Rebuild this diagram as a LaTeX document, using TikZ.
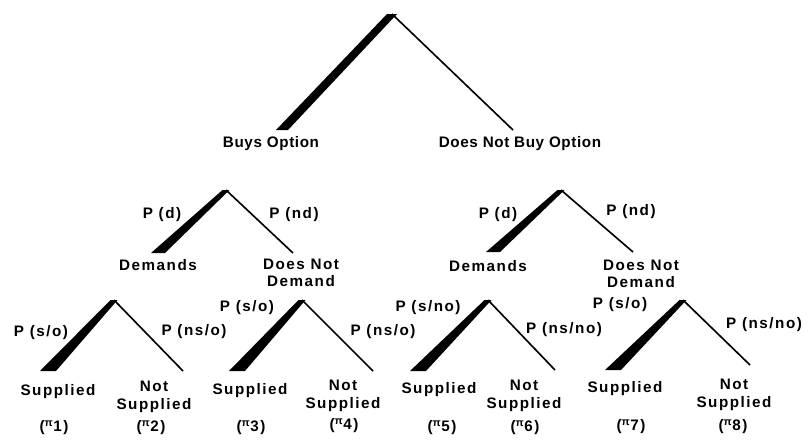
\documentclass[tikz,border=0pt]{standalone}
\usepackage{fontspec}
\setmainfont{Liberation Sans}[LetterSpace=10]
\usetikzlibrary{calc}

\tikzset{
  lbl/.style={font=\fontsize{13}{15}\selectfont\bfseries, inner sep=0pt, align=center},
  toplbl/.style={lbl, font=\fontsize{13}{15}\selectfont\bfseries\addfontfeature{LetterSpace=4}},
  thinbranch/.style={line width=1.4pt},
}
% tapered heavy branch: apex, end, half width at apex, half width at end
\newcommand{\heavybranch}[4]{%
  \fill ($(#1)+(-#3,0)$) -- ($(#1)+(#3,0)$) -- ($(#2)+(#4,0)$) -- ($(#2)+(-#4,0)$) -- cycle;}

\begin{document}
\begin{tikzpicture}[x=0.03cm, y=-0.03cm]
        \useasboundingbox (0,0) rectangle (809,439);

        % Top decision
        \coordinate (top) at (392,14);
        \coordinate (topL) at (282,130);
        \coordinate (topR) at (513,130);
        \heavybranch{top}{topL}{5}{6}
        \draw[thinbranch] (top) -- (topR);
        \node[toplbl] (buys) at (271,144) {Buys Option};
        \node[toplbl] (nobuy) at (520,144) {Does Not Buy Option};

        % Demand level, left
        \coordinate (dA) at (226,190);
        \coordinate (dAL) at (158,253);
        \coordinate (dAR) at (293,253);
        \heavybranch{dA}{dAL}{3.5}{7}
        \draw[thinbranch] (dA) -- (dAR);
        \node[lbl] (pdA) at (162,215) {P (d)};
        \node[lbl] (pndA) at (294,215) {P (nd)};
        \node[lbl] (demA) at (158,265) {Demands};
        \node[lbl] (nodemA) at (301,273) {Does Not\\Demand};

        % Demand level, right
        \coordinate (dB) at (561,190);
        \coordinate (dBL) at (493,252);
        \coordinate (dBR) at (633,252);
        \heavybranch{dB}{dBL}{3.5}{7}
        \draw[thinbranch] (dB) -- (dBR);
        \node[lbl] (pdB) at (498,215) {P (d)};
        \node[lbl] (pndB) at (631,212) {P (nd)};
        \node[lbl] (demB) at (488,266) {Demands};
        \node[lbl] (nodemB) at (641,274) {Does Not\\Demand};

        % Supply level, tree 1
        \coordinate (s1) at (114,300);
        \coordinate (s1L) at (48,371);
        \coordinate (s1R) at (183,371);
        \heavybranch{s1}{s1L}{3.5}{8}
        \draw[thinbranch] (s1) -- (s1R);
        \node[lbl] (ps1) at (41,333) {P (s/o)};
        \node[lbl] (pns1) at (194,332) {P (ns/o)};
        \node[lbl] (sup1) at (58,392) {Supplied};
        \node[lbl] (nsup1) at (154,397) {Not\\Supplied};
        \node[lbl] (pi1) at (54,428) {(\textsuperscript{π}1)};
        \node[lbl] (pi2) at (151,428) {(\textsuperscript{π}2)};

        % Supply level, tree 2
        \coordinate (s2) at (302,300);
        \coordinate (s2L) at (237,371);
        \coordinate (s2R) at (373,371);
        \heavybranch{s2}{s2L}{3.5}{8}
        \draw[thinbranch] (s2) -- (s2R);
        \node[lbl] (ps2) at (247,308) {P (s/o)};
        \node[lbl] (pns2) at (383,332) {P (ns/o)};
        \node[lbl] (sup2) at (250,391) {Supplied};
        \node[lbl] (nsup2) at (343,396) {Not\\Supplied};
        \node[lbl] (pi3) at (251,428) {(\textsuperscript{π}3)};
        \node[lbl] (pi4) at (344,426) {(\textsuperscript{π}4)};

        % Supply level, tree 3
        \coordinate (s3) at (488,300);
        \coordinate (s3L) at (418,371);
        \coordinate (s3R) at (555,370);
        \heavybranch{s3}{s3L}{3.5}{8}
        \draw[thinbranch] (s3) -- (s3R);
        \node[lbl] (ps3) at (428,308) {P (s/no)};
        \node[lbl] (pns3) at (564,330) {P (ns/no)};
        \node[lbl] (sup3) at (439,390) {Supplied};
        \node[lbl] (nsup3) at (524,396) {Not\\Supplied};
        \node[lbl] (pi5) at (442,428) {(\textsuperscript{π}5)};
        \node[lbl] (pi6) at (525,428) {(\textsuperscript{π}6)};

        % Supply level, tree 4
        \coordinate (s4) at (683,300);
        \coordinate (s4L) at (613,370);
        \coordinate (s4R) at (750,365);
        \heavybranch{s4}{s4L}{3.5}{8}
        \draw[thinbranch] (s4) -- (s4R);
        \node[lbl] (ps4) at (620,305) {P (s/o)};
        \node[lbl] (pns4) at (764,325) {P (ns/no)};
        \node[lbl] (sup4) at (625,389) {Supplied};
        \node[lbl] (nsup4) at (734,395) {Not\\Supplied};
        \node[lbl] (pi7) at (631,427) {(\textsuperscript{π}7)};
        \node[lbl] (pi8) at (733,427) {(\textsuperscript{π}8)};

\end{tikzpicture}
\end{document}
